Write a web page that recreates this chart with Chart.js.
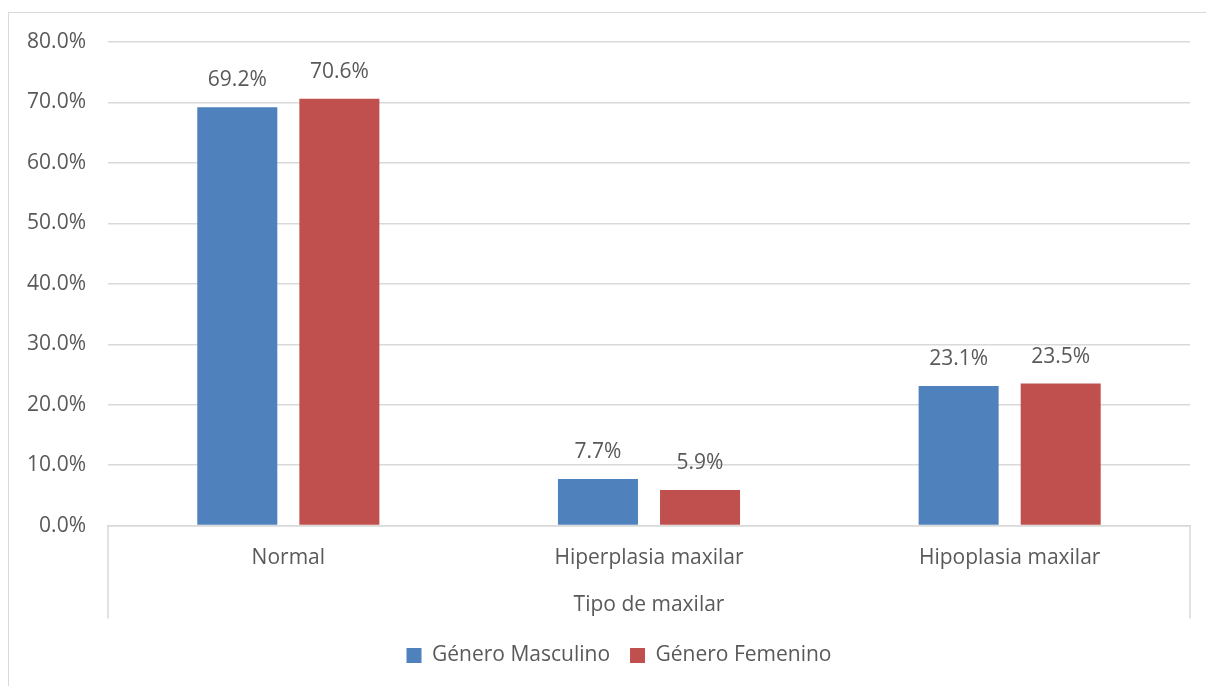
<!DOCTYPE html>
<html>
<head>
<meta charset="utf-8">
<script src="https://cdn.jsdelivr.net/npm/chart.js@4"></script>
<style>
html,body{margin:0;padding:0;background:#fff;overflow:hidden;}
#wrap{position:absolute;left:0;top:0;width:1206px;height:686px;}
#frame{position:absolute;left:8px;top:12px;width:1198px;height:674px;border-left:1px solid #d9d9d9;border-top:1px solid #d9d9d9;box-sizing:border-box;}
</style>
</head>
<body>
<div id="frame"></div>
<div id="wrap"><canvas id="c" width="1206" height="686"></canvas></div>
<script>
const categories = ["Normal", "Hiperplasia maxilar", "Hipoplasia maxilar"];
const masculino = [69.2, 7.7, 23.1];
const femenino = [70.6, 5.9, 23.5];
const seriesNames = ["Género Masculino", "Género Femenino"];
const axisTitle = "Tipo de maxilar";
const yMin = 0, yMax = 80, yStep = 10;

const FONT = "'Open Sans', sans-serif";
const FS = 21;
const TXT = "#595959";

const valueLabels = {
  id: 'valueLabels',
  afterDatasetsDraw(chart) {
    const ctx = chart.ctx;
    ctx.save();
    ctx.font = FS + "px " + FONT;
    ctx.fillStyle = TXT;
    ctx.textAlign = 'center';
    ctx.textBaseline = 'middle';
    chart.data.datasets.forEach((ds, i) => {
      const meta = chart.getDatasetMeta(i);
      meta.data.forEach((bar, j) => {
        ctx.fillText(ds.data[j].toFixed(1) + '%', bar.x, bar.y - 27);
      });
    });
    ctx.restore();
  }
};

const axisFrame = {
  id: 'axisFrame',
  afterLayout(chart) {
    if (chart.legend) { chart.legend.left += 15; chart.legend.right += 15; }
  },
  afterDraw(chart) {
    const ctx = chart.ctx;
    const a = chart.chartArea;
    const y0 = chart.scales.y.getPixelForValue(0);
    ctx.save();
    ctx.strokeStyle = '#d9d9d9';
    ctx.lineWidth = 1.5;
    ctx.beginPath();
    ctx.moveTo(a.left, y0); ctx.lineTo(a.left, y0 + 93);
    ctx.moveTo(a.right, y0); ctx.lineTo(a.right, y0 + 93);
    ctx.stroke();
    ctx.restore();
  }
};

new Chart(document.getElementById('c'), {
  type: 'bar',
  data: {
    labels: categories,
    datasets: [
      { label: seriesNames[0], data: masculino, backgroundColor: '#4f81bd', borderWidth: 0 },
      { label: seriesNames[1], data: femenino, backgroundColor: '#c0504d', borderWidth: 0 }
    ]
  },
  options: {
    responsive: false,
    animation: false,
    devicePixelRatio: 1,
    layout: { padding: { left: 18, right: 16, top: 42, bottom: 10 } },
    plugins: {
      legend: {
        position: 'bottom',
        labels: { font: { family: FONT, size: FS }, color: TXT, boxWidth: 15, boxHeight: 15, padding: 20 }
      },
      tooltip: { enabled: false }
    },
    datasets: { bar: { categoryPercentage: 0.566, barPercentage: 0.784 } },
    scales: {
      x: {
        grid: { display: false },
        border: { color: '#d9d9d9', width: 1.5 },
        ticks: { font: { family: FONT, size: FS }, color: TXT, padding: 12 },
        title: { display: true, text: axisTitle, font: { family: FONT, size: FS }, color: TXT, padding: { top: 10, bottom: 7 } }
      },
      y: {
        min: yMin, max: yMax,
        afterFit(s) { s.width = 90; },
        ticks: { stepSize: yStep, font: { family: FONT, size: FS }, color: TXT, padding: 22,
          callback: v => v.toFixed(1) + '%' },
        grid: { color: '#d9d9d9', lineWidth: 1.5, drawTicks: false },
        border: { display: false }
      }
    }
  },
  plugins: [valueLabels, axisFrame]
});
</script>
</body>
</html>
